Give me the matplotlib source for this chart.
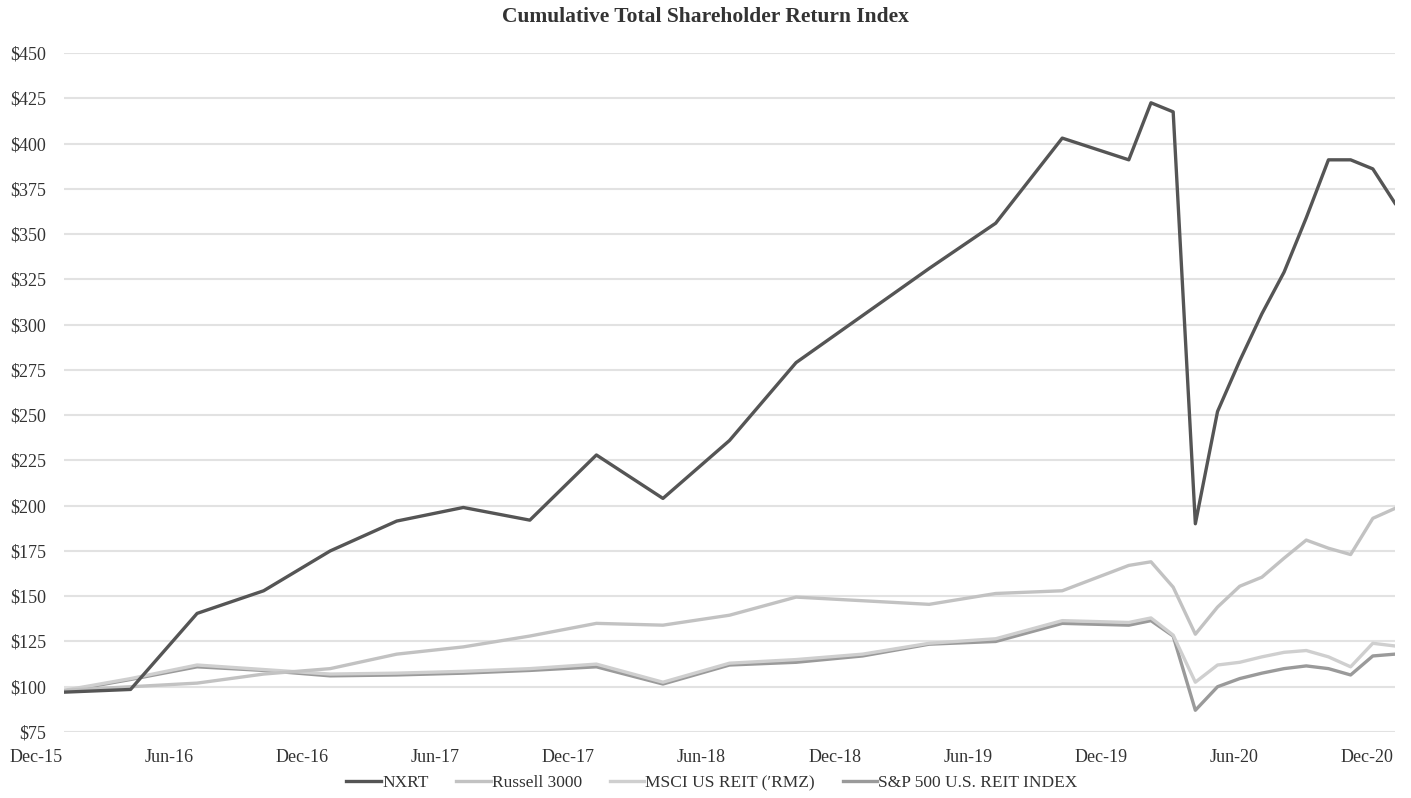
import matplotlib
matplotlib.use('Agg')
import matplotlib.pyplot as plt
import matplotlib.transforms as mtransforms

# month index: 0 = Dec-15 ... 60 = Dec-20
nxrt_months = [0, 3, 6, 9, 12, 15, 18, 21, 24, 27, 30, 33, 36, 39, 42, 45, 48,
               49, 50, 51, 52, 53, 54, 55, 56, 57, 58, 59, 60]
nxrt = [97, 98.5, 140.5, 153, 175, 191.5, 199, 192, 228, 204, 236, 279, 305, 331, 356, 403, 391,
        422.5, 417.5, 190, 252, 280, 306, 329, 359, 391, 391, 386, 367]

idx_months = nxrt_months
russell = [98, 100, 102, 107, 110, 118, 122, 128, 135, 134, 139.5, 149.5, 147.5, 145.5, 151.5, 153, 167,
           169, 155, 129, 144, 155.5, 160.5, 171, 181, 176.5, 173, 193, 198.5]
msci_reit = [98, 104.5, 112, 109.5, 107, 107.5, 108.5, 110, 112.5, 102.5, 113, 115, 118, 124, 126.5, 136.5, 135.5,
             138, 128.5, 102.5, 112, 113.5, 116.5, 119, 120, 116.5, 111, 124, 122.5]
sp_reit = [97.5, 104, 111, 109, 106, 106.5, 107.5, 109, 111, 101.5, 112, 113.5, 117, 123.5, 125, 135, 134,
           136.5, 128, 87, 100, 104.5, 107.5, 110, 111.5, 110, 106.5, 117, 118]

tick_months = [0, 6, 12, 18, 24, 30, 36, 42, 48, 54, 60]
tick_labels = ['Dec-15', 'Jun-16', 'Dec-16', 'Jun-17', 'Dec-17', 'Jun-18',
               'Dec-18', 'Jun-19', 'Dec-19', 'Jun-20', 'Dec-20']
yticks = list(range(75, 451, 25))

plt.rcParams['font.family'] = ['Liberation Serif', 'DejaVu Serif']
txt = '#333333'

fig = plt.figure(figsize=(14.11, 7.98), dpi=100)
ax = fig.add_axes([64/1411, 1-732/798, (1395-64)/1411, (732-53)/798])

ax.plot(idx_months, sp_reit, color='#9a9a9a', lw=2.4, label='S&P 500 U.S. REIT INDEX', zorder=3)
ax.plot(idx_months, msci_reit, color='#cfcfcf', lw=2.4, label='MSCI US REIT (\u02b9RMZ)', zorder=4)
ax.plot(idx_months, russell, color='#c2c2c2', lw=2.4, label='Russell 3000', zorder=4)
ax.plot(nxrt_months, nxrt, color='#555555', lw=2.4, label='NXRT', zorder=5)

ax.set_xlim(0, 60)
ax.set_ylim(75, 450)
ax.set_yticks(yticks)
ax.set_yticklabels(['$%d' % v for v in yticks], fontsize=13, color=txt)
ax.set_xticks(tick_months)
ax.set_xticklabels(tick_labels, fontsize=13, color=txt)
ax.tick_params(axis='both', length=0)
ax.tick_params(axis='y', pad=13)
ax.tick_params(axis='x', pad=12)
# labels sit a bit left of the data positions in the original
shift = mtransforms.ScaledTranslation(-28/100, 0, fig.dpi_scale_trans)
for lab in ax.get_xticklabels():
    lab.set_transform(lab.get_transform() + shift)

ax.grid(axis='y', color='#e2e2e2', lw=1.5, zorder=0)
for s in ax.spines.values():
    s.set_visible(False)

fig.suptitle('Cumulative Total Shareholder Return Index', y=1-17/798, va='center',
             fontsize=15.5, fontweight='bold', color=txt)

h, l = ax.get_legend_handles_labels()
order = [3, 2, 1, 0]
fig.legend([h[i] for i in order], [l[i] for i in order], loc='center',
           bbox_to_anchor=(712/1411, 1-783/798), ncol=4, frameon=False,
           fontsize=12.5, handlelength=2.0, handletextpad=0.05, columnspacing=1.6,
           labelcolor=txt)

fig.savefig('out.png', dpi=100, facecolor='white')
